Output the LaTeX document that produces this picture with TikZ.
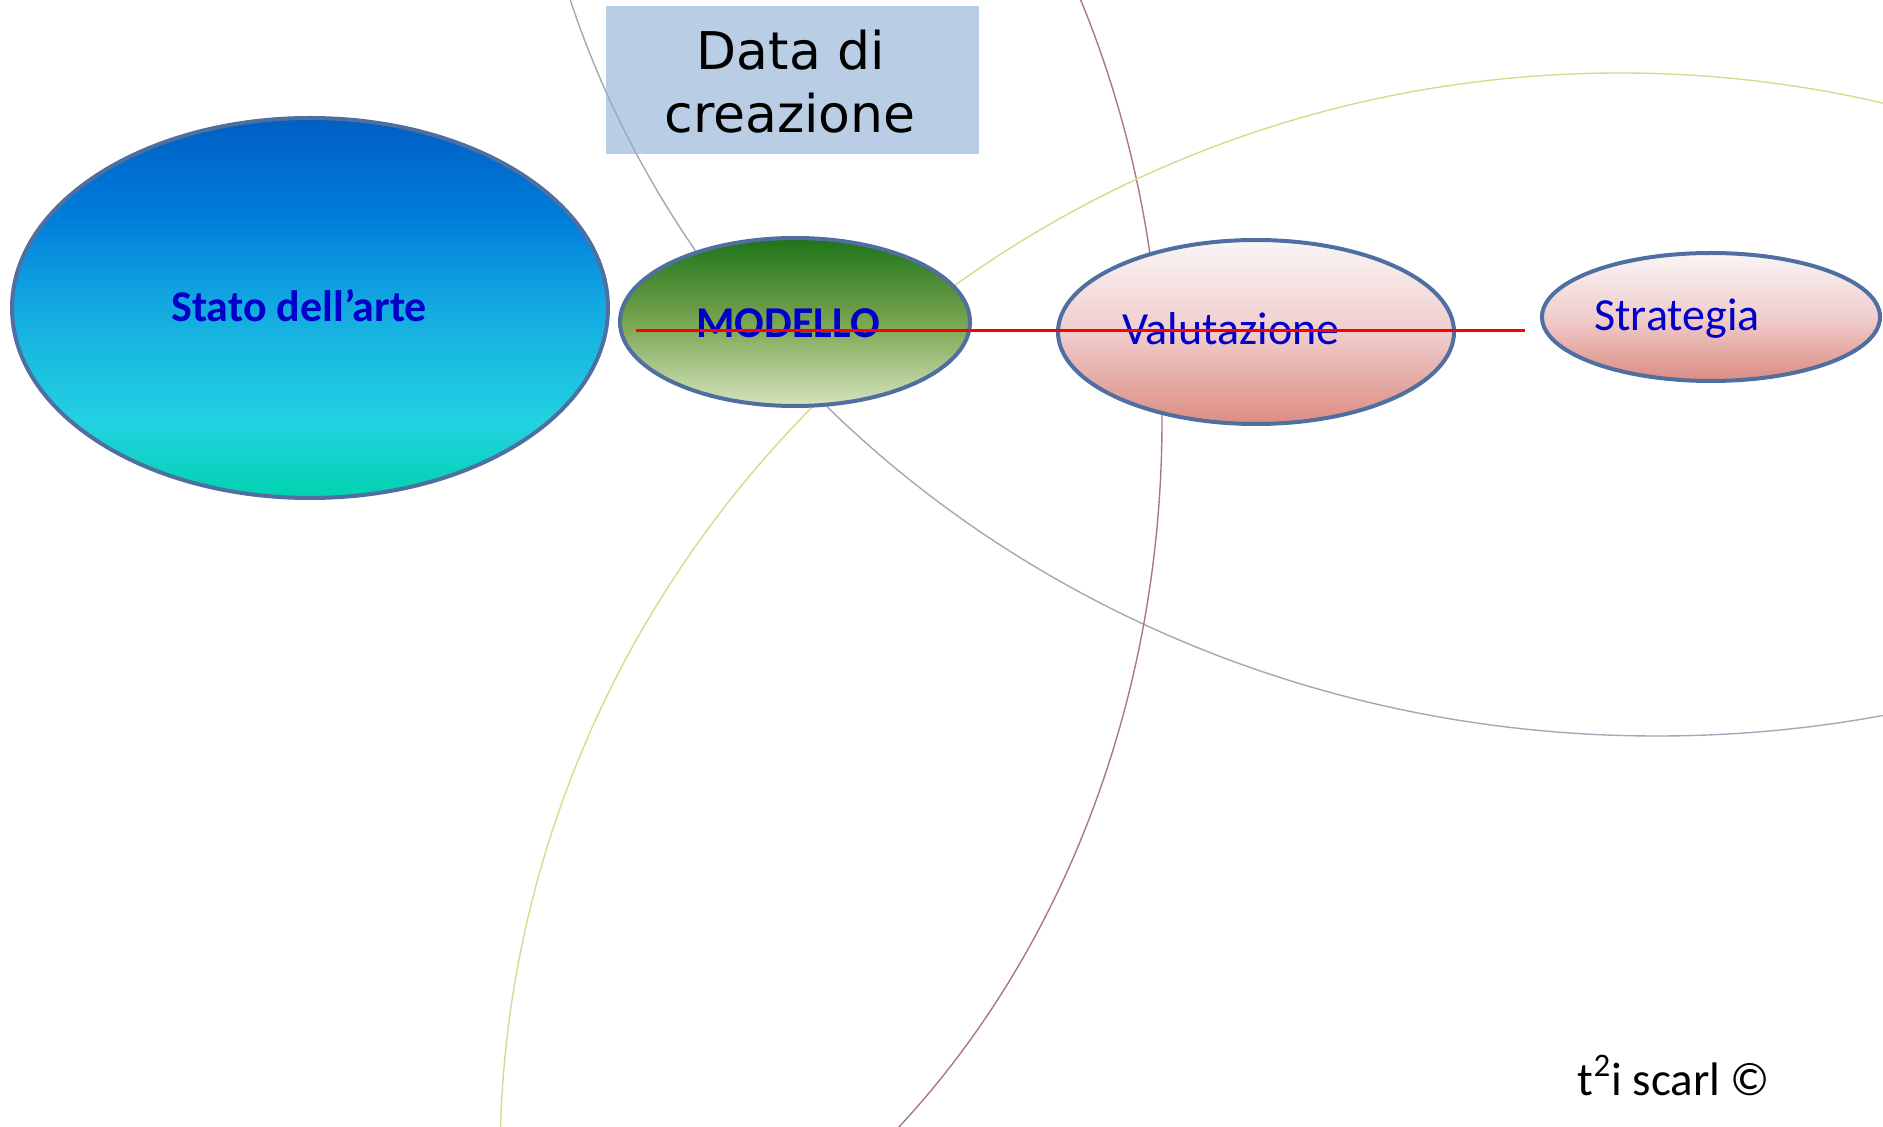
\documentclass[tikz,border=0pt]{standalone}
\usepackage{fontspec}
\setmainfont{Carlito}
\newfontfamily\boxfont{DejaVu Sans}
\usetikzlibrary{shapes.geometric}

\definecolor{bubbleline}{RGB}{79,111,160}
\definecolor{boxblue}{RGB}{185,205,228}
\definecolor{labelblue}{RGB}{0,0,200}
\definecolor{arcgray}{RGB}{160,168,185}
\definecolor{arcbrown}{RGB}{170,120,130}
\definecolor{arcyellow}{RGB}{220,215,140}

\definecolor{statoA}{RGB}{0,210,175}
\definecolor{statoB}{RGB}{35,210,225}
\definecolor{statoC}{RGB}{20,170,225}
\definecolor{statoD}{RGB}{0,125,220}
\definecolor{statoE}{RGB}{0,95,195}
\pgfdeclareverticalshading{statoshade}{100bp}{color(0bp)=(statoA); color(25bp)=(statoA); color(35bp)=(statoB); color(50bp)=(statoC); color(62bp)=(statoD); color(75bp)=(statoE); color(100bp)=(statoE)}

\definecolor{modelA}{RGB}{215,228,190}
\definecolor{modelB}{RGB}{120,165,80}
\definecolor{modelC}{RGB}{30,115,25}
\pgfdeclareverticalshading{modelshade}{100bp}{color(0bp)=(modelA); color(25bp)=(modelA); color(50bp)=(modelB); color(75bp)=(modelC); color(100bp)=(modelC)}

\definecolor{pinkA}{RGB}{220,140,130}
\definecolor{pinkB}{RGB}{240,205,205}
\definecolor{pinkC}{RGB}{250,245,245}
\pgfdeclareverticalshading{pinkshade}{100bp}{color(0bp)=(pinkA); color(25bp)=(pinkA); color(50bp)=(pinkB); color(75bp)=(pinkC); color(100bp)=(pinkC)}

\begin{document}
\begin{tikzpicture}[x=0.5pt,y=-0.5pt]
\tikzset{bubble/.style = {ellipse,draw=bubbleline,line width=2pt,inner sep=0pt,shade},
  bubbletext/.style = {anchor=base,text=labelblue,font=\fontsize{23}{27}\selectfont},
  thinarc/.style = {line width=0.7pt}}
\useasboundingbox (0,0) rectangle (1883,1127);
\clip (0,0) rectangle (1883,1127);

\node[fill=boxblue,minimum width=186.5pt,minimum height=74pt,inner sep=0pt] (datebox) at (792,80) {};
\node[anchor=base,font=\boxfont\fontsize{26}{32}\selectfont] (date1) at (791,70) {Data di};
\node[anchor=base,font=\boxfont\fontsize{26}{32}\selectfont] (date2) at (790,133) {creazione};

\draw[thinarc,arcgray] (1657,-300) ellipse [x radius=1135, y radius=1036];
\draw[thinarc,arcbrown] (380,420) ellipse [x radius=782, y radius=945];
\draw[thinarc,arcyellow] (1620,1160) ellipse [x radius=1120, y radius=1087];

\node[bubble,shading=statoshade,minimum width=298pt,minimum height=190pt] (stato) at (310,308) {};
\node[bubble,shading=modelshade,minimum width=175pt,minimum height=84pt] (modello) at (795,322) {};
\node[bubble,shading=pinkshade,minimum width=198pt,minimum height=92pt] (valut) at (1256,332) {};
\node[bubble,shading=pinkshade,minimum width=169pt,minimum height=64pt] (strat) at (1711,317) {};

\node[bubbletext,font=\bfseries\fontsize{22}{26}\selectfont] (statotxt) at (299,322) {Stato dell’arte};
\node[bubbletext,font=\bfseries\fontsize{22}{26}\selectfont] (modellotxt) at (788,338) {MODELLO};
\node[bubbletext] (valuttxt) at (1231,345) {Valutazione};
\node[bubbletext] (strattxt) at (1677,331) {Strategia};

\coordinate (redstart) at (636,331);
\coordinate (redend) at (1525,331);
\draw[red,line width=1.5pt] (redstart) -- (redend);

\node[anchor=base,font=\fontsize{23.5}{28}\selectfont] (credit) at (1674,1095) {t\textsuperscript{2}i scarl ©};
\end{tikzpicture}
\end{document}
